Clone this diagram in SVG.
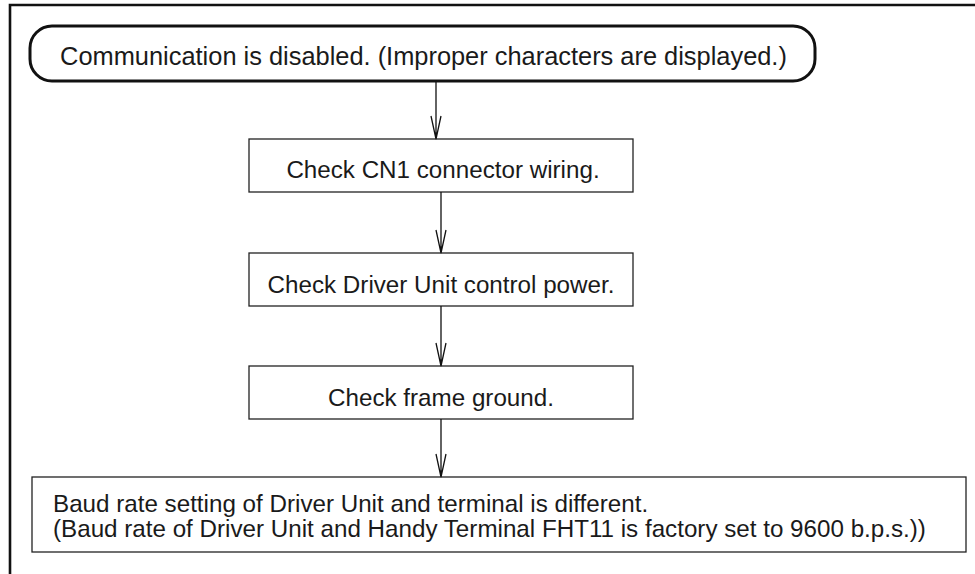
<svg xmlns="http://www.w3.org/2000/svg" width="975" height="574" viewBox="0 0 975 574">
<style>
.t{font-family:"Liberation Sans",Arial,sans-serif;font-size:24.2px;fill:#1a1a1a}
.box{fill:#fff;stroke:#222;stroke-width:1.3}
.ln{fill:none;stroke:#111;stroke-width:1.3}
</style>
<rect width="975" height="574" fill="#fff"/>
<path d="M10,574 V5 H975" fill="none" stroke="#111" stroke-width="2.6"/>
<g id="start">
<rect x="30" y="26" width="785" height="55" rx="22" ry="22" fill="#fff" stroke="#111" stroke-width="3"/>
<text class="t" x="423.5" y="65" text-anchor="middle" style="font-size:25.4px">Communication is disabled. (Improper characters are displayed.)</text>
</g>
<g id="check-cn1">
<rect class="box" x="249" y="139" width="384" height="53"/>
<text class="t" x="443" y="178" text-anchor="middle">Check CN1 connector wiring.</text>
</g>
<g id="check-power">
<rect class="box" x="249" y="253" width="384" height="53"/>
<text class="t" x="441" y="293" text-anchor="middle">Check Driver Unit control power.</text>
</g>
<g id="check-fg">
<rect class="box" x="249" y="366" width="384" height="53"/>
<text class="t" x="441" y="406" text-anchor="middle">Check frame ground.</text>
</g>
<g id="baud">
<rect class="box" x="32" y="477" width="934" height="75"/>
<text class="t" x="53" y="512">Baud rate setting of Driver Unit and terminal is different.</text>
<text class="t" x="53" y="537">(Baud rate of Driver Unit and Handy Terminal FHT11 is factory set to 9600 b.p.s.))</text>
</g>
<g id="connectors">
<path class="ln" d="M436,81 V139 M431,116 L436,139 L441,116"/>
<path class="ln" d="M441,192 V253 M436,230 L441,253 L446,230"/>
<path class="ln" d="M441,306 V366 M436,343 L441,366 L446,343"/>
<path class="ln" d="M441,419 V477 M436,454 L441,477 L446,454"/>
</g>
</svg>
